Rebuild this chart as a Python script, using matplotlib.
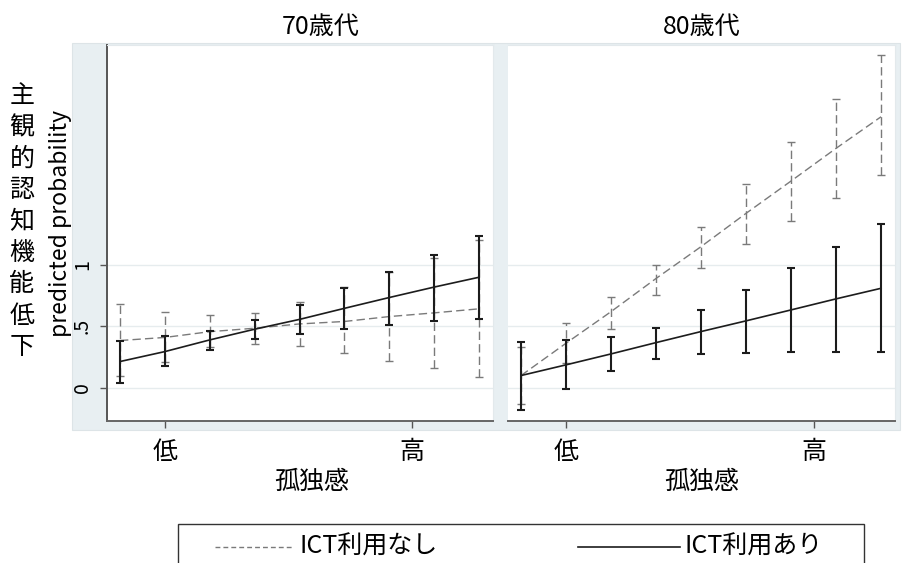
import numpy as np
import matplotlib
matplotlib.use("Agg")
import matplotlib.pyplot as plt
from matplotlib.lines import Line2D
from matplotlib.patches import Rectangle

plt.rcParams['font.family'] = ['Noto Sans CJK JP', 'DejaVu Sans']

loneliness = [1, 2, 3, 4, 5, 6, 7, 8, 9]
tick_pos = [2, 7.5]
tick_labels = ["低", "高"]
y_ticks = [0, 0.5, 1]
y_tick_labels = ["0", ".5", "1"]
panel_titles = ["70歳代", "80歳代"]
series_labels = ["ICT利用なし", "ICT利用あり"]
ylabel_jp = "主観的認知機能低下"

# 70歳代
no_ict_70 = [0.385, 0.41, 0.457, 0.485, 0.52, 0.54, 0.58, 0.61, 0.643]
no_ict_70_lo = [0.098, 0.21, 0.33, 0.36, 0.34, 0.28, 0.22, 0.16, 0.085]
no_ict_70_hi = [0.68, 0.62, 0.59, 0.61, 0.70, 0.82, 0.94, 1.06, 1.20]
ict_70 = [0.214, 0.295, 0.39, 0.477, 0.557, 0.647, 0.735, 0.82, 0.90]
ict_70_lo = [0.043, 0.18, 0.31, 0.40, 0.44, 0.48, 0.51, 0.54, 0.56]
ict_70_hi = [0.385, 0.418, 0.46, 0.55, 0.67, 0.81, 0.945, 1.08, 1.236]

# 80歳代
no_ict_80 = [0.10, 0.363, 0.62, 0.89, 1.149, 1.42, 1.683, 1.949, 2.206]
no_ict_80_lo = [-0.13, 0.20, 0.477, 0.756, 0.973, 1.17, 1.36, 1.547, 1.73]
no_ict_80_hi = [0.33, 0.526, 0.74, 1.0, 1.31, 1.656, 1.997, 2.35, 2.707]
ict_80 = [0.10, 0.187, 0.276, 0.368, 0.458, 0.545, 0.634, 0.724, 0.81]
ict_80_lo = [-0.179, -0.008, 0.14, 0.236, 0.276, 0.287, 0.29, 0.29, 0.29]
ict_80_hi = [0.376, 0.39, 0.41, 0.49, 0.634, 0.80, 0.978, 1.149, 1.333]

W, H = 904, 563
gray = "#7a7a7a"
black = "#1c1c1c"
dash = (0, (6, 3))


def draw(ax, mean, lo, hi, color, dashed):
    ls = dash if dashed else "-"
    lw = 1.0 if dashed else 1.2
    ax.plot(loneliness, mean, color=color, lw=lw, ls=ls, zorder=3)
    m = np.array(mean)
    yerr = [m - np.array(lo), np.array(hi) - m]
    eb = ax.errorbar(loneliness, mean, yerr=yerr, fmt="none", ecolor=color,
                     elinewidth=1.0 if dashed else 1.5, capsize=3,
                     capthick=1.0 if dashed else 1.5, zorder=3)
    eb[2][0].set_linestyle(ls)


def fx(px):
    return px / W


def fy(py):
    return 1 - py / H


fig = plt.figure(figsize=(W / 100, H / 100), dpi=100)
bg = Rectangle((fx(72), fy(430)), (900 - 72) / W, (430 - 43) / H,
               transform=fig.transFigure, facecolor="#e8eff2",
               edgecolor="#dde4e7", lw=0.8, zorder=-1)
fig.patches.append(bg)

axL = fig.add_axes([fx(107), fy(421), 386 / W, 376 / H])
axR = fig.add_axes([fx(508), fy(421), 387 / W, 376 / H])

draw(axL, no_ict_70, no_ict_70_lo, no_ict_70_hi, gray, True)
draw(axL, ict_70, ict_70_lo, ict_70_hi, black, False)
draw(axR, no_ict_80, no_ict_80_lo, no_ict_80_hi, gray, True)
draw(axR, ict_80, ict_80_lo, ict_80_hi, black, False)

title_x = [0.554, 0.50]
xlabel_x = [0.531, 0.50]
for i, ax in enumerate([axL, axR]):
    ax.set_facecolor("white")
    ax.set_xlim(0.71, 9.31)
    ax.set_ylim(-0.27, 2.79)
    ax.set_yticks(y_ticks)
    ax.grid(axis="y", color="#e6ecee", lw=1.0, zorder=0)
    ax.set_xticks(tick_pos)
    ax.set_xticklabels(tick_labels, fontsize=18)
    ax.tick_params(axis="x", length=5, width=1, color="#555555", pad=8)
    for s in ["top", "right"]:
        ax.spines[s].set_color("#e3e9ec")
    ax.spines["bottom"].set_color("#666666")
    ax.spines["bottom"].set_linewidth(1.4)
    ax.text(title_x[i], 1.048, panel_titles[i], transform=ax.transAxes,
            ha="center", va="center", fontsize=18)
    ax.text(xlabel_x[i], -0.162, "孤独感", transform=ax.transAxes,
            ha="center", va="center", fontsize=18)

axL.set_yticklabels(y_tick_labels, fontsize=14, rotation=90, va="center")
axL.tick_params(axis="y", length=5, width=1, color="#555555", pad=5)
axL.spines["left"].set_color("#555555")
axL.spines["left"].set_linewidth(1.4)

axR.spines["left"].set_visible(False)
axR.tick_params(axis="y", length=0, labelleft=False)

# y labels
fig.text(fx(61), fy(223), "predicted probability", rotation=90,
         ha="center", va="center", fontsize=16.5)
for k, ch in enumerate(ylabel_jp):
    fig.text(fx(22), fy(96 + k * 31.4), ch, ha="center", va="center",
             fontsize=18)

# legend box (bottom edge falls outside the figure, as in the original)
fig.patches.append(Rectangle((fx(178), fy(580)), (864 - 178) / W, (580 - 524) / H,
                             transform=fig.transFigure, facecolor="white",
                             edgecolor="#333333", lw=1.0, clip_on=False))
leg_y = fy(547)
fig.lines.append(Line2D([fx(215), fx(293)], [leg_y, leg_y], transform=fig.transFigure,
                        color=gray, lw=1.0, ls=(0, (3.5, 2.2))))
fig.text(fx(300), leg_y, series_labels[0], ha="left", va="center", fontsize=18)
fig.lines.append(Line2D([fx(578), fx(680)], [leg_y, leg_y], transform=fig.transFigure,
                        color=black, lw=1.2))
fig.text(fx(685), leg_y, series_labels[1], ha="left", va="center", fontsize=18)

fig.savefig("out.png", dpi=100)
